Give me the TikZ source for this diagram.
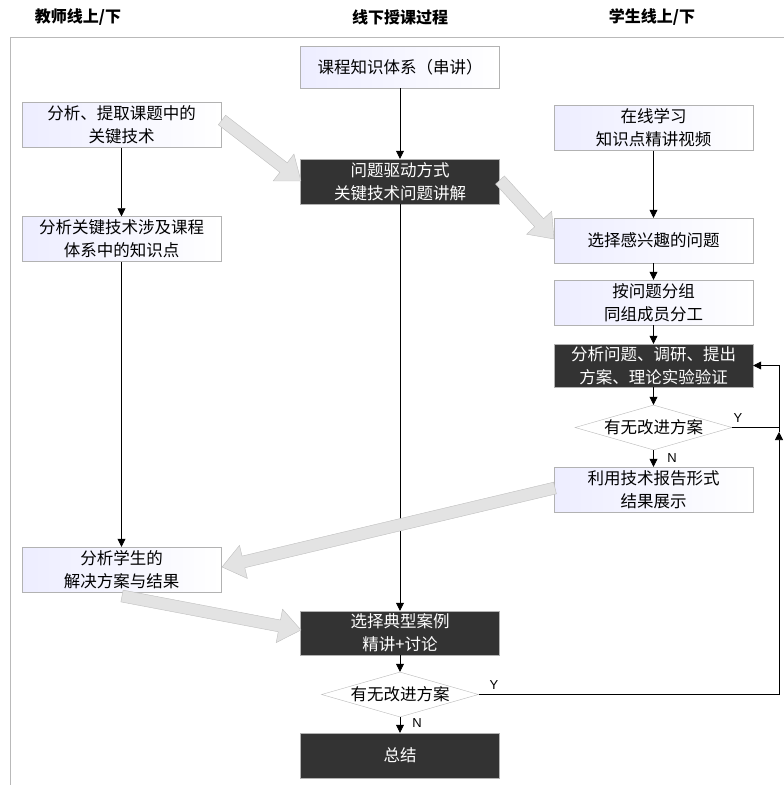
\documentclass[tikz,border=0pt]{standalone}
\usepackage{fontspec}
\setmainfont{Liberation Sans}
\newfontfamily\cjk{Noto Sans CJK SC}
\usetikzlibrary{arrows.meta,shapes.geometric,calc}
\newcommand\blockarrow[2]{%
  \path let \p1=(#1), \p2=(#2), \n1={atan2(\y2-\y1,\x2-\x1)}, \n2={veclen(\x2-\x1,\y2-\y1)} in
    \pgfextra{\xdef\baang{\n1}\xdef\balen{\n2}\xdef\bax{\x1}\xdef\bay{\y1}};
  \pgfmathsetmacro\bab{\balen-22}%
  \pgfmathsetmacro\bac{\balen}%
  \filldraw[blockarr, shift={(\bax,\bay)}, rotate=\baang]
    (0pt,-6pt) -- (\bab pt,-6pt) -- (\bab pt,-17pt) -- (\bac pt,0pt) -- (\bab pt,17pt) -- (\bab pt,6pt) -- (0pt,6pt) -- cycle;
}
\begin{document}
\begin{tikzpicture}[x=1pt,y=-1pt,
  font=\cjk\fontsize{16.5}{23}\selectfont,
  box/.style={draw=gray!60, left color=blue!7!white, right color=white, minimum width=199pt, minimum height=45pt, align=center, inner sep=1pt, text=black},
  dark/.style={draw=gray!60, fill=black!80, text=white, minimum width=199pt, minimum height=45pt, align=center, inner sep=1pt},
  dec/.style={diamond, aspect=3.5, draw=gray!55, fill=white, minimum width=157pt, minimum height=45pt, inner sep=-3pt},
  arr/.style={draw=black, line width=0.7pt, -{Triangle[length=8pt,width=8pt]}},
  plain/.style={draw=black, line width=0.7pt},
  blockarr/.style={fill=gray!22, draw=gray!50, line width=0.4pt},
  hdr/.style={font=\cjk\bfseries\fontsize{16}{18}\selectfont},
  yn/.style={font=\fontsize{13}{15}\selectfont}]
\useasboundingbox (0,0) rectangle (784,785);
% frame
\draw[gray!55, line width=0.8pt] (10,785) -- (10,37) -- (784,37);
% headers
\node[hdr] (h1) at (78,17) {教师线上/下};
\node[hdr] (h2) at (400,17) {线下授课过程};
\node[hdr] (h3) at (652,17) {学生线上/下};
% nodes
\node[box, minimum height=42pt] (t1) at (400,67) {课程知识体系（串讲）};
\node[dark] (d1) at (400,181.5) {问题驱动方式\\关键技术问题讲解};
\node[box] (l1) at (121.5,125) {分析、提取课题中的\\关键技术};
\node[box] (l2) at (121.5,239) {分析关键技术涉及课程\\体系中的知识点};
\node[box] (r1) at (653.5,128) {在线学习\\知识点精讲视频};
\node[box] (r2) at (653.5,240.5) {选择感兴趣的问题};
\node[box] (r3) at (653.5,302.5) {按问题分组\\同组成员分工};
\node[dark, minimum height=43pt] (r4) at (653.5,365.5) {分析问题、调研、提出\\方案、理论实验验证};
\node[dec] (q1) at (653.5,427.5) {有无改进方案};
\node[box] (r5) at (653.5,489.5) {利用技术报告形式\\结果展示};
\node[box] (l3) at (121.5,569.5) {分析学生的\\解决方案与结果};
\node[dark, minimum height=44pt] (d2) at (400,633) {选择典型案例\\精讲+讨论};
\node[dec] (q2) at (400,694.5) {有无改进方案};
\node[dark] (d3) at (400,755.5) {总结};
% connectors
\draw[arr] (t1) -- (d1);
\draw[arr] (d1) -- (d2);
\draw[arr] (l1) -- (l2);
\draw[arr] (l2) -- (l3);
\draw[arr] (r1) -- (r2);
\draw[arr] (r2) -- (r3);
\draw[arr] (r3) -- (r4);
\draw[arr] (r4) -- (q1.north);
\draw[arr] (q1.south) -- (r5);
\draw[arr] (d2) -- (q2.north);
\draw[arr] (q2.south) -- (d3);
% feedback
\coordinate (fbx) at (779,0);
\coordinate (j) at (779,432);
\draw[arr] (q2.east) -- (q2.east -| fbx) -- (j);
\draw[arr] (j) -- (r4.east -| fbx) -- (r4.east);
\draw[plain] (q1.east) -- (q1.east -| fbx);
% labels
\node[yn] (y1) at (738,418) {Y};
\node[yn] (n1) at (672,458) {N};
\node[yn] (y2) at (494,685) {Y};
\node[yn] (n2) at (417,723) {N};
% block arrows
\coordinate (a1s) at (222,120); \coordinate (a1e) at (301,181);
\coordinate (a2s) at (500,180); \coordinate (a2e) at (554,239);
\coordinate (a3s) at (555,488); \coordinate (a3e) at (222,567);
\coordinate (a4s) at (122,596); \coordinate (a4e) at (301,630);
\blockarrow{a1s}{a1e}
\blockarrow{a2s}{a2e}
\blockarrow{a3s}{a3e}
\blockarrow{a4s}{a4e}
\end{tikzpicture}
\end{document}
